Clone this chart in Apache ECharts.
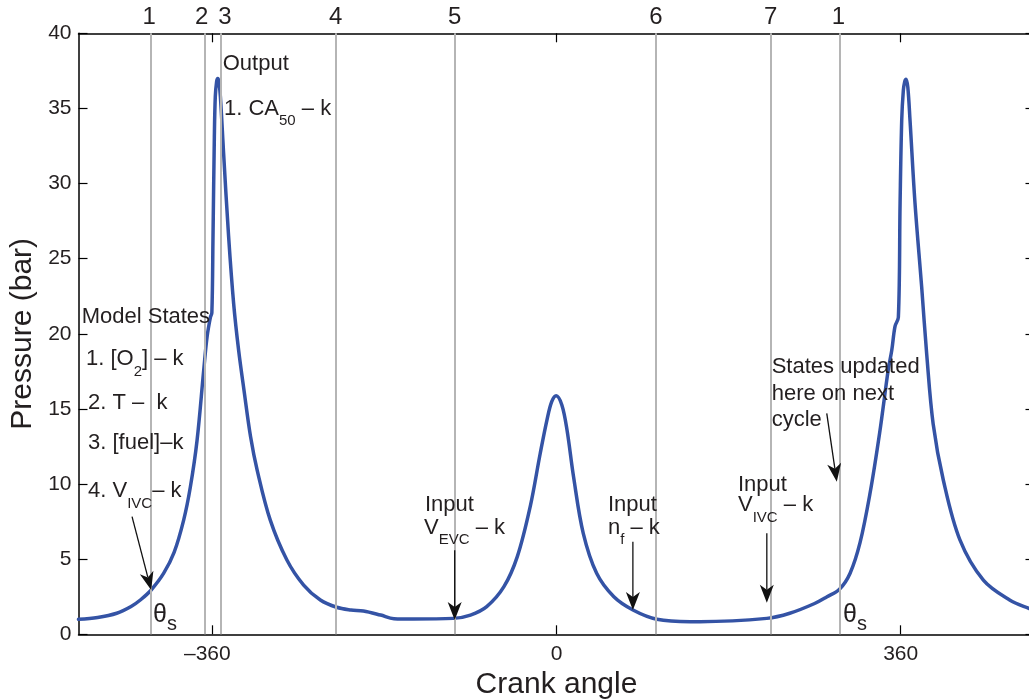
<!DOCTYPE html>
<html>
<head>
<meta charset="utf-8">
<script src="https://cdn.jsdelivr.net/npm/echarts@6/dist/echarts.min.js"></script>
<style>
  html, body { margin: 0; padding: 0; background: #fff; }
  #chart { width: 1029px; height: 700px; }
</style>
</head>
<body>
<div id="chart"></div>
<script>
// Cylinder pressure over two engine cycles (crank angle in degrees, pressure in bar)
const crankAngle = [
  -500, -480, -460, -445, -435, -424, -411, -400, -390, -383, -376, -369, -365.5, -362, -360.5,
  -359.3, -357.9, -356.9, -355.5, -354.4, -353.2, -351.6, -348.2, -343, -337.7, -332.5, -327,
  -320, -313, -299.4, -282, -264.5, -247, -230, -215, -202, -184, -170, -150, -108, -90, -73,
  -55, -41, -27.5, -17, -10, -5, -0.3, 5.6, 11, 17.8, 28, 42, 60, 80, 105, 140, 150, 220, 244,
  270, 283, 296, 307, 317.5, 328, 338, 347, 350.7, 354.1, 357.6, 359.4, 361.1, 362.8, 364.3,
  365.6, 367.5, 369.8, 375, 382, 387.3, 394, 404.6, 422, 446.5, 474, 494, 500
];
const pressure = [
  1.00, 1.12, 1.40, 1.85, 2.30, 2.95, 4.05, 5.45, 7.6, 9.8, 12.9, 17.6, 19.8, 21.1, 21.4,
  26.5, 33.1, 35.8, 36.8, 37.0, 36.8, 35.8, 32.0, 26.5, 22.0, 18.9, 16.3,
  13.15, 10.9, 7.6, 4.95, 3.28, 2.28, 1.8, 1.62, 1.55, 1.28, 1.04, 1.02, 1.06, 1.28, 1.84,
  3.17, 5.17, 8.5, 12.05, 14.26, 15.48, 15.88, 15.26, 13.6, 10.5, 6.72, 4.06, 2.5, 1.62, 1.0, 0.84, 0.84, 1.06, 1.4,
  2.05, 2.5, 3.0, 4.05, 6.1, 9.4, 13.4, 17.6, 18.9, 20.5, 21.1, 28.7, 34.2, 36.2, 36.8,
  36.95, 36.4, 34.2, 28.7, 23.1, 18.6, 14.0, 10.27, 6.28, 3.6, 2.28, 1.73, 1.62
];

// Event markers along the cycle and their labels
const eventAngles = [-424, -368, -351, -231, -106.5, 104, 224, 296];
const eventLabels = ['1', '2', '3', '4', '5', '6', '7', '1'];
const eventLabelShift = [-2, -3, 4, 0, 0, 0, 0, -1];

const xTicks = [-360, 0, 360];
const FONT = '"Liberation Sans", Arial, Helvetica, sans-serif';
const INK = '#231f20';

const chart = echarts.init(document.getElementById('chart'), null, { renderer: 'canvas' });

const axisCommon = {
  axisLine: { show: true, onZero: false, lineStyle: { color: '#000', width: 1.5 } },
  splitLine: { show: false }
};

chart.setOption({
  animation: false,
  backgroundColor: '#fff',
  grid: { left: 78.5, top: 33.3, width: 956, height: 601, outerBoundsMode: 'none', containLabel: false },
  xAxis: [
    Object.assign({}, axisCommon, {
      type: 'value', position: 'bottom', min: -500, max: 500,
      name: 'Crank angle', nameLocation: 'middle', nameGap: 35,
      nameTextStyle: { fontSize: 30, fontFamily: FONT, color: INK },
      axisTick: { show: true, inside: true, length: 9, customValues: xTicks, lineStyle: { color: '#000', width: 1.2 } },
      axisLabel: {
        show: true, customValues: xTicks, margin: 9, fontSize: 21, fontFamily: FONT, color: INK,
        formatter: v => (v < 0 ? '{neg|\u2013' + Math.abs(v) + '}' : String(v)),
        rich: { neg: { fontSize: 21, fontFamily: FONT, color: INK, padding: [0, 10, 0, 0] } }
      }
    }),
    Object.assign({}, axisCommon, {
      type: 'value', position: 'top', min: -500, max: 500,
      axisTick: { show: true, inside: true, length: 9, customValues: xTicks, lineStyle: { color: '#000', width: 1.2 } },
      axisLabel: { show: false }
    })
  ],
  yAxis: [
    Object.assign({}, axisCommon, {
      type: 'value', position: 'left', min: 0, max: 40, interval: 5,
      name: 'Pressure (bar)', nameLocation: 'middle', nameGap: 41,
      nameTextStyle: { fontSize: 30, fontFamily: FONT, color: INK },
      axisTick: { show: true, inside: true, length: 9, lineStyle: { color: '#000', width: 1.2 } },
      axisLabel: { show: true, margin: 7, fontSize: 21, fontFamily: FONT, color: INK }
    }),
    Object.assign({}, axisCommon, {
      type: 'value', position: 'right', min: 0, max: 40, interval: 5,
      axisTick: { show: true, inside: true, length: 9, lineStyle: { color: '#000', width: 1.2 } },
      axisLabel: { show: false }
    })
  ],
  series: [
    {
      name: 'events', type: 'line', data: [], z: 1, silent: true,
      markLine: {
        silent: true, symbol: ['none', 'none'],
        lineStyle: { color: '#b5b5b5', width: 2, type: 'solid' },
        label: { show: true, position: 'end', distance: 4, fontSize: 24, fontFamily: FONT, color: INK, formatter: p => p.name },
        data: eventAngles.map((a, i) => ({
          name: eventLabels[i], xAxis: a,
          label: { offset: [eventLabelShift[i], 0] }
        }))
      }
    },
    {
      name: 'pressure', type: 'line', z: 3,
      data: crankAngle.map((a, i) => [a, pressure[i]]),
      showSymbol: false, smooth: 0.35,
      lineStyle: { color: '#3453a5', width: 3.5, join: 'round', cap: 'round' },
      clip: true
    }
  ]
});

// ---- annotations ----
const measurer = document.createElement('canvas').getContext('2d');
function textWidth(str, size) {
  measurer.font = size + 'px ' + FONT;
  return measurer.measureText(str).width;
}
// A line of text with optional subscripts: parts = [[text, isSub], ...]
function richLine(x, y, parts, size, subSize, subDrop) {
  const out = [];
  let cx = x;
  parts.forEach(([str, sub]) => {
    const fs = sub ? subSize : size;
    out.push({
      type: 'text', x: cx, y: sub ? y + subDrop : y, silent: true, z: 50,
      style: { text: str, fontSize: fs, fontFamily: FONT, fill: INK, textAlign: 'left', textVerticalAlign: 'middle' }
    });
    cx += textWidth(str, fs);
  });
  return out;
}
function txt(x, y, parts) { return richLine(x, y, parts, 22, 15, 12.5); }

const px = (a, p) => chart.convertToPixel({ gridIndex: 0 }, [a, p]);
function arrow(from, to) {
  const [x1, y1] = px(from[0], from[1]);
  const [x2, y2] = px(to[0], to[1]);
  const dx = x2 - x1, dy = y2 - y1, len = Math.hypot(dx, dy);
  const ux = dx / len, uy = dy / len, nx = -uy, ny = ux;
  const L = 18, W = 7, N = 5;
  return [
    { type: 'line', silent: true, z: 40, shape: { x1, y1, x2: x2 - ux * (L - N), y2: y2 - uy * (L - N) }, style: { stroke: '#111', lineWidth: 1.3 } },
    { type: 'polygon', silent: true, z: 41, shape: { points: [
      [x2, y2],
      [x2 - ux * L + nx * W, y2 - uy * L + ny * W],
      [x2 - ux * (L - N), y2 - uy * (L - N)],
      [x2 - ux * L - nx * W, y2 - uy * L - ny * W]
    ] }, style: { fill: '#111' } }
  ];
}

const g = [].concat(
  txt(222.7, 64, [['Output']]),
  txt(224, 108.7, [['1. CA'], ['50', true], [' \u2013 k']]),
  txt(81.7, 317, [['Model States']]),
  txt(86, 359.3, [['1. [O'], ['2', true], ['] \u2013 k']]),
  txt(88, 403, [['2. T \u2013  k']]),
  txt(88, 442.5, [['3. [fuel]\u2013k']]),
  txt(88, 491, [['4. V'], ['IVC', true], ['\u2013 k']]),
  txt(425, 505, [['Input']]),
  txt(424, 527.5, [['V'], ['EVC', true], [' \u2013 k']]),
  txt(608, 505, [['Input']]),
  txt(608, 527.5, [['n'], ['f', true], [' \u2013 k']]),
  txt(738, 485, [['Input']]),
  txt(738, 505, [['V'], ['IVC', true], [' \u2013 k']]),
  txt(771.7, 366.5, [['States updated']]),
  txt(771.7, 393.5, [['here on next']]),
  txt(771.7, 420, [['cycle']]),
  richLine(153, 615.5, [['\u03b8'], ['s', true]], 25, 20, 9),
  richLine(843, 615.5, [['\u03b8'], ['s', true]], 25, 20, 9),
  arrow([-444, 7.83], [-424, 2.95]),
  arrow([-106.5, 5.6], [-106.5, 0.95]),
  arrow([79.9, 6.16], [79.9, 1.62]),
  arrow([220, 6.72], [220, 2.1]),
  arrow([282.7, 14.7], [293.2, 10.16])
);

chart.setOption({ graphic: { elements: g } });
</script>
</body>
</html>
